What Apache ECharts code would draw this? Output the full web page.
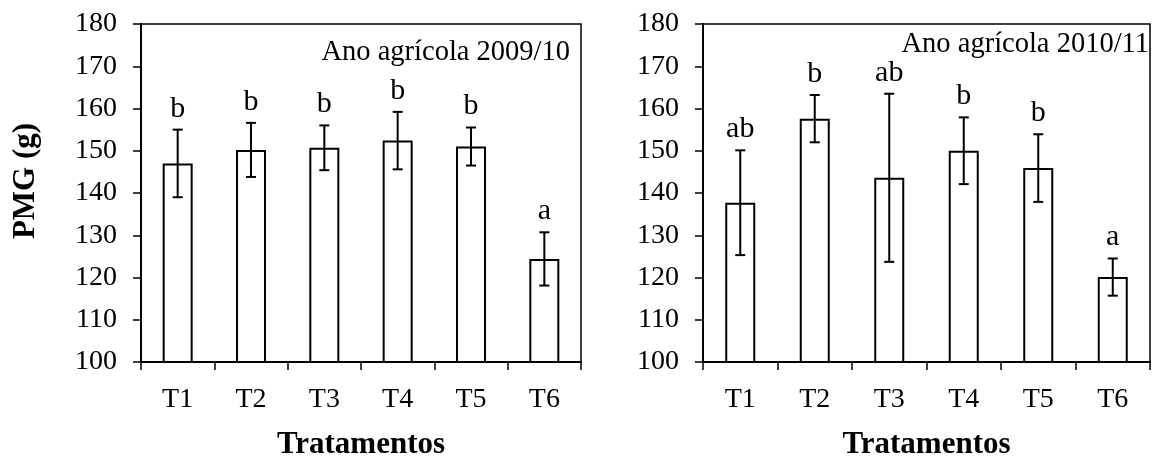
<!DOCTYPE html>
<html>
<head>
<meta charset="utf-8">
<script src="https://cdn.jsdelivr.net/npm/echarts@6/dist/echarts.min.js"></script>
<style>
  html, body { margin: 0; padding: 0; background: #fff; }
  #chart { width: 1153px; height: 457px; }
</style>
</head>
<body>
<div id="chart"></div>
<script>
// Treatments on the x axis
const categories = ['T1', 'T2', 'T3', 'T4', 'T5', 'T6'];

// Crop year 2009/10: mean PMG (g), error and significance letters
const mean2009 = [147.0, 150.2, 150.7, 152.4, 151.0, 124.4];
const err2009 = [8.0, 6.4, 5.3, 6.8, 4.5, 6.3];
const letters2009 = ['b', 'b', 'b', 'b', 'b', 'a'];

// Crop year 2010/11
const mean2010 = [137.7, 157.6, 143.6, 150.0, 145.9, 120.1];
const err2010 = [12.4, 5.6, 19.9, 7.9, 8.0, 4.4];
const letters2010 = ['ab', 'b', 'ab', 'b', 'b', 'a'];

const yTicks = { min: 100, max: 180, interval: 10 };
const panelTitles = ['Ano agrícola 2009/10', 'Ano agrícola 2010/11'];
const yTitle = 'PMG (g)';
const xTitle = 'Tratamentos';

const SERIF = '"Liberation Serif", "Times New Roman", serif';

const chart = echarts.init(document.getElementById('chart'), null, { renderer: 'canvas' });

function xAxisFor(gridIndex) {
  return {
    type: 'category',
    gridIndex,
    data: categories,
    boundaryGap: true,
    axisLine: { onZero: false, lineStyle: { color: '#000', width: 2 } },
    axisTick: { show: true, inside: false, length: 8, alignWithLabel: false, lineStyle: { color: '#000', width: 1.5 } },
    axisLabel: { color: '#000', fontFamily: SERIF, fontSize: 28, margin: 24 },
    name: xTitle,
    nameLocation: 'middle',
    nameGap: 67,
    nameTextStyle: { color: '#000', fontFamily: SERIF, fontSize: 31, fontWeight: 'bold' },
    splitLine: { show: false }
  };
}

function yAxisFor(gridIndex) {
  return {
    type: 'value',
    gridIndex,
    min: yTicks.min,
    max: yTicks.max,
    interval: yTicks.interval,
    axisLine: { show: true, lineStyle: { color: '#000', width: 2 } },
    axisTick: { show: true, inside: false, length: 8, lineStyle: { color: '#000', width: 1.5 } },
    axisLabel: { color: '#000', fontFamily: SERIF, fontSize: 28, margin: 24 },
    splitLine: { show: false }
  };
}

function barSeries(idx, values) {
  return {
    type: 'bar',
    xAxisIndex: idx,
    yAxisIndex: idx,
    data: values,
    barWidth: 30,
    itemStyle: { color: '#fff', borderColor: '#000', borderWidth: 2 },
    silent: true,
    z: 2
  };
}

// Error bars with caps plus the significance letter above each bar
function errorSeries(idx, means, errs, letters) {
  return {
    type: 'custom',
    xAxisIndex: idx,
    yAxisIndex: idx,
    data: means.map((m, i) => [i, m, errs[i]]),
    z: 5,
    silent: true,
    renderItem(params, api) {
      const i = api.value(0);
      const m = api.value(1);
      const e = api.value(2);
      const hi = api.coord([i, m + e]);
      const lo = api.coord([i, m - e]);
      const cap = 5;
      const line = { stroke: '#000', lineWidth: 2 };
      return {
        type: 'group',
        children: [
          { type: 'line', shape: { x1: hi[0], y1: hi[1], x2: lo[0], y2: lo[1] }, style: line },
          { type: 'line', shape: { x1: hi[0] - cap, y1: hi[1], x2: hi[0] + cap, y2: hi[1] }, style: line },
          { type: 'line', shape: { x1: lo[0] - cap, y1: lo[1], x2: lo[0] + cap, y2: lo[1] }, style: line },
          {
            type: 'text',
            x: hi[0],
            y: hi[1] - 6,
            style: {
              text: letters[i],
              fill: '#000',
              font: '30px ' + SERIF,
              textAlign: 'center',
              textVerticalAlign: 'bottom'
            }
          }
        ]
      };
    }
  };
}

const gridStyle = {
  show: true,
  borderColor: '#000',
  borderWidth: 1.5,
  backgroundColor: 'transparent',
  containLabel: false,
  outerBoundsMode: 'none'
};

chart.setOption({
  backgroundColor: '#fff',
  animation: false,
  grid: [
    Object.assign({ left: 141, top: 24, width: 440, height: 338 }, gridStyle),
    Object.assign({ left: 703, top: 24, width: 447, height: 338 }, gridStyle)
  ],
  xAxis: [xAxisFor(0), xAxisFor(1)],
  yAxis: [yAxisFor(0), yAxisFor(1)],
  graphic: [
    {
      type: 'text',
      right: 1153 - 570,
      top: 38,
      style: { text: panelTitles[0], fill: '#000', font: '28.5px ' + SERIF }
    },
    {
      type: 'text',
      right: 1153 - 1149,
      top: 30,
      style: { text: panelTitles[1], fill: '#000', font: '28.5px ' + SERIF }
    },
    {
      type: 'text',
      x: 26,
      y: 181,
      rotation: Math.PI / 2,
      style: {
        text: yTitle,
        fill: '#000',
        font: 'bold 31px ' + SERIF,
        textAlign: 'center',
        textVerticalAlign: 'middle'
      }
    }
  ],
  series: [
    barSeries(0, mean2009),
    errorSeries(0, mean2009, err2009, letters2009),
    barSeries(1, mean2010),
    errorSeries(1, mean2010, err2010, letters2010)
  ]
});
</script>
</body>
</html>
